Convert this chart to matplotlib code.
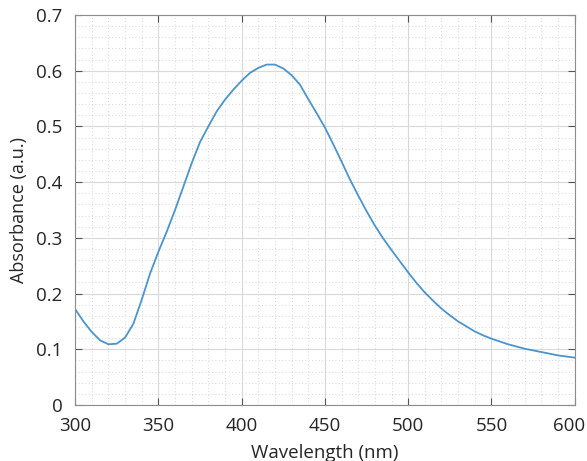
import numpy as np
import matplotlib.pyplot as plt
import matplotlib.transforms as mtransforms
from matplotlib.ticker import MultipleLocator

wavelength = [300, 305, 310, 315, 320, 325, 330, 335, 340, 345,
              350, 355, 360, 365, 370, 375, 380, 385, 390, 395,
              400, 405, 410, 415, 420, 425, 430, 435, 440, 445,
              450, 455, 460, 465, 470, 475, 480, 485, 490, 495,
              500, 505, 510, 515, 520, 525, 530, 535, 540, 545,
              550, 555, 560, 565, 570, 575, 580, 585, 590, 595, 600]
absorbance = [0.172, 0.150, 0.131, 0.116, 0.109, 0.110, 0.121, 0.146, 0.189, 0.236,
              0.275, 0.311, 0.350, 0.392, 0.434, 0.472, 0.500, 0.527, 0.548, 0.566,
              0.582, 0.596, 0.605, 0.611, 0.611, 0.604, 0.592, 0.575, 0.549, 0.524,
              0.498, 0.468, 0.437, 0.405, 0.376, 0.348, 0.322, 0.299, 0.278, 0.258,
              0.238, 0.219, 0.202, 0.187, 0.173, 0.161, 0.150, 0.141, 0.132, 0.125,
              0.119, 0.114, 0.109, 0.105, 0.101, 0.098, 0.095, 0.092, 0.089, 0.087, 0.085]
xticks = [300, 350, 400, 450, 500, 550, 600]
yticks = [0, 0.1, 0.2, 0.3, 0.4, 0.5, 0.6, 0.7]
ytick_labels = ['0', '0.1', '0.2', '0.3', '0.4', '0.5', '0.6', '0.7']

plt.rcParams['font.family'] = ['Open Sans', 'DejaVu Sans']

fig = plt.figure(figsize=(5.87, 4.61), dpi=100)
ax = fig.add_axes([0.128, 0.1215, 0.851, 0.846])

ax.plot(wavelength, absorbance, color='#4b94cc', lw=1.3)

ax.set_xlim(300, 600)
ax.set_ylim(0, 0.7)
ax.set_xticks(xticks)
ax.xaxis.set_minor_locator(MultipleLocator(10))
ax.set_yticks(yticks)
ax.set_yticklabels(ytick_labels)
ax.yaxis.set_minor_locator(MultipleLocator(0.02))

ax.grid(which='major', color='#d9d9d9', lw=0.8)
ax.grid(which='minor', color='#c8c8c8', lw=0.6, ls=(0, (1, 3)))
ax.set_axisbelow(True)

ax.tick_params(which='both', direction='in', top=True, right=True, colors='#555555',
               labelcolor='#262626', labelsize=13.5)
ax.tick_params(which='major', length=5)
ax.tick_params(axis='x', which='major', pad=9)
ax.tick_params(axis='y', which='major', pad=9)
ax.tick_params(which='minor', length=0)
for s in ax.spines.values():
    s.set_color('#8c8c8c')
    s.set_linewidth(0.8)

# last x label pulled in a bit so it stays inside the figure
last = ax.xaxis.get_major_ticks()[-1].label1
last.set_transform(last.get_transform() +
                   mtransforms.ScaledTranslation(-6 / 100, 0, fig.dpi_scale_trans))

ax.set_xlabel('Wavelength (nm)', fontsize=13.5, color='#262626', labelpad=6)
ax.set_ylabel('Absorbance (a.u.)', fontsize=13, color='#262626', labelpad=6)

fig.savefig('out.png', dpi=100)
